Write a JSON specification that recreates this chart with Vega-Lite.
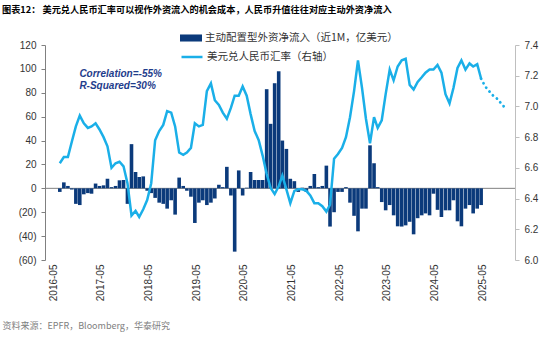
{
  "$schema": "https://vega.github.io/schema/vega-lite/v6.json",
  "width": 470,
  "height": 215,
  "autosize": {"type": "none"},
  "padding": {"left": 45, "top": 45, "right": 35, "bottom": 78},
  "background": "white",
  "config": {"view": {"stroke": null}, "font": "Liberation Sans"},
  "title": {
    "text": "图表12：  美元兑人民币汇率可以视作外资流入的机会成本，人民币升值往往对应主动外资净流入",
    "anchor": "start",
    "frame": "group",
    "dx": -43,
    "offset": 12,
    "font": "Noto Sans CJK SC",
    "fontSize": 9.2,
    "fontWeight": "bold",
    "color": "#000000"
  },
  "datasets": {
    "main": [
      {"date": "2016-07-15", "flow": -3, "usdcny": 6.63},
      {"date": "2016-08-15", "flow": 5, "usdcny": 6.67},
      {"date": "2016-09-15", "flow": 2, "usdcny": 6.67},
      {"date": "2016-10-15", "flow": -1, "usdcny": 6.77},
      {"date": "2016-11-15", "flow": -13, "usdcny": 6.87},
      {"date": "2016-12-15", "flow": -14, "usdcny": 6.94},
      {"date": "2017-01-15", "flow": -5, "usdcny": 6.89},
      {"date": "2017-02-15", "flow": -4, "usdcny": 6.86},
      {"date": "2017-03-15", "flow": -4.5, "usdcny": 6.87},
      {"date": "2017-04-15", "flow": 4, "usdcny": 6.89},
      {"date": "2017-05-15", "flow": 2, "usdcny": 6.85},
      {"date": "2017-06-15", "flow": 2.5, "usdcny": 6.8},
      {"date": "2017-07-15", "flow": 8, "usdcny": 6.74},
      {"date": "2017-08-15", "flow": 1, "usdcny": 6.6},
      {"date": "2017-09-15", "flow": 2, "usdcny": 6.63},
      {"date": "2017-10-15", "flow": 6.7, "usdcny": 6.64},
      {"date": "2017-11-15", "flow": 7, "usdcny": 6.61},
      {"date": "2017-12-15", "flow": -13, "usdcny": 6.5},
      {"date": "2018-01-15", "flow": 37, "usdcny": 6.29},
      {"date": "2018-02-15", "flow": 13.7, "usdcny": 6.32},
      {"date": "2018-03-15", "flow": 9.5, "usdcny": 6.28},
      {"date": "2018-04-15", "flow": 10, "usdcny": 6.33},
      {"date": "2018-05-15", "flow": -2, "usdcny": 6.39},
      {"date": "2018-06-15", "flow": -4, "usdcny": 6.5},
      {"date": "2018-07-15", "flow": -8, "usdcny": 6.78},
      {"date": "2018-08-15", "flow": -12, "usdcny": 6.84},
      {"date": "2018-09-15", "flow": -13, "usdcny": 6.88},
      {"date": "2018-10-15", "flow": -17, "usdcny": 6.97},
      {"date": "2018-11-15", "flow": -10, "usdcny": 6.96},
      {"date": "2018-12-15", "flow": -22, "usdcny": 6.87},
      {"date": "2019-01-15", "flow": 9, "usdcny": 6.7},
      {"date": "2019-02-15", "flow": 2, "usdcny": 6.685},
      {"date": "2019-03-15", "flow": -2, "usdcny": 6.7},
      {"date": "2019-04-15", "flow": -7, "usdcny": 6.73},
      {"date": "2019-05-15", "flow": -29, "usdcny": 6.89},
      {"date": "2019-06-15", "flow": -12, "usdcny": 6.87},
      {"date": "2019-07-15", "flow": -10, "usdcny": 6.88},
      {"date": "2019-08-15", "flow": -14, "usdcny": 7.1},
      {"date": "2019-09-15", "flow": -12, "usdcny": 7.15},
      {"date": "2019-10-15", "flow": -8.5, "usdcny": 7.04},
      {"date": "2019-11-15", "flow": 3, "usdcny": 7.01},
      {"date": "2019-12-15", "flow": 1, "usdcny": 6.96},
      {"date": "2020-01-15", "flow": 18, "usdcny": 6.92},
      {"date": "2020-02-15", "flow": -6, "usdcny": 6.99},
      {"date": "2020-03-15", "flow": -53, "usdcny": 7.07},
      {"date": "2020-04-15", "flow": 15, "usdcny": 7.07},
      {"date": "2020-05-15", "flow": -6, "usdcny": 7.13},
      {"date": "2020-06-15", "flow": 0.5, "usdcny": 7.07},
      {"date": "2020-07-15", "flow": 13.7, "usdcny": 6.95},
      {"date": "2020-08-15", "flow": 7, "usdcny": 6.84},
      {"date": "2020-09-15", "flow": 7, "usdcny": 6.78},
      {"date": "2020-10-15", "flow": 7, "usdcny": 6.68},
      {"date": "2020-11-15", "flow": 83, "usdcny": 6.56},
      {"date": "2020-12-15", "flow": 54, "usdcny": 6.47},
      {"date": "2021-01-15", "flow": 88, "usdcny": 6.43},
      {"date": "2021-02-15", "flow": 98, "usdcny": 6.48},
      {"date": "2021-03-15", "flow": 40, "usdcny": 6.55},
      {"date": "2021-04-15", "flow": 33, "usdcny": 6.46},
      {"date": "2021-05-15", "flow": 8, "usdcny": 6.37},
      {"date": "2021-06-15", "flow": 6, "usdcny": 6.45},
      {"date": "2021-07-15", "flow": -3, "usdcny": 6.46},
      {"date": "2021-08-15", "flow": 0.5, "usdcny": 6.46},
      {"date": "2021-09-15", "flow": -3, "usdcny": 6.45},
      {"date": "2021-10-15", "flow": 2, "usdcny": 6.42},
      {"date": "2021-11-15", "flow": 12, "usdcny": 6.37},
      {"date": "2021-12-15", "flow": 1, "usdcny": 6.37},
      {"date": "2022-01-15", "flow": 2, "usdcny": 6.35},
      {"date": "2022-02-15", "flow": 19, "usdcny": 6.315},
      {"date": "2022-03-15", "flow": -32, "usdcny": 6.36},
      {"date": "2022-04-15", "flow": -20, "usdcny": 6.66},
      {"date": "2022-05-15", "flow": -3, "usdcny": 6.69},
      {"date": "2022-06-15", "flow": -3, "usdcny": 6.73},
      {"date": "2022-07-15", "flow": 1, "usdcny": 6.8},
      {"date": "2022-08-15", "flow": -12, "usdcny": 6.93},
      {"date": "2022-09-15", "flow": -23, "usdcny": 7.1},
      {"date": "2022-10-15", "flow": -36, "usdcny": 7.3},
      {"date": "2022-11-15", "flow": -17, "usdcny": 7.12},
      {"date": "2022-12-15", "flow": -17, "usdcny": 6.92},
      {"date": "2023-01-15", "flow": 36, "usdcny": 6.76},
      {"date": "2023-02-15", "flow": 21, "usdcny": 6.93},
      {"date": "2023-03-15", "flow": 1, "usdcny": 6.86},
      {"date": "2023-04-15", "flow": -11.5, "usdcny": 6.91},
      {"date": "2023-05-15", "flow": -18.4, "usdcny": 7.08},
      {"date": "2023-06-15", "flow": -14, "usdcny": 7.24},
      {"date": "2023-07-15", "flow": -22.6, "usdcny": 7.17},
      {"date": "2023-08-15", "flow": -31.8, "usdcny": 7.26},
      {"date": "2023-09-15", "flow": -32, "usdcny": 7.3},
      {"date": "2023-10-15", "flow": -31, "usdcny": 7.31},
      {"date": "2023-11-15", "flow": -28, "usdcny": 7.14},
      {"date": "2023-12-15", "flow": -38.5, "usdcny": 7.11},
      {"date": "2024-01-15", "flow": -25, "usdcny": 7.16},
      {"date": "2024-02-15", "flow": -22.6, "usdcny": 7.19},
      {"date": "2024-03-15", "flow": -21, "usdcny": 7.22},
      {"date": "2024-04-15", "flow": -22.6, "usdcny": 7.24},
      {"date": "2024-05-15", "flow": -4.5, "usdcny": 7.24},
      {"date": "2024-06-15", "flow": -18, "usdcny": 7.27},
      {"date": "2024-07-15", "flow": -24, "usdcny": 7.22},
      {"date": "2024-08-15", "flow": -18.4, "usdcny": 7.08},
      {"date": "2024-09-15", "flow": -18.4, "usdcny": 7.02},
      {"date": "2024-10-15", "flow": -10, "usdcny": 7.12},
      {"date": "2024-11-15", "flow": -27.6, "usdcny": 7.25},
      {"date": "2024-12-15", "flow": -31.8, "usdcny": 7.3},
      {"date": "2025-01-15", "flow": -17, "usdcny": 7.24},
      {"date": "2025-02-15", "flow": -14, "usdcny": 7.28},
      {"date": "2025-03-15", "flow": -21, "usdcny": 7.26},
      {"date": "2025-04-15", "flow": -17, "usdcny": 7.275},
      {"date": "2025-05-15", "flow": -14, "usdcny": 7.18}
    ],
    "forecast": [
      {"date": "2025-05-15", "usdcny": 7.18},
      {"date": "2025-06-15", "usdcny": 7.13},
      {"date": "2025-07-15", "usdcny": 7.1},
      {"date": "2025-08-15", "usdcny": 7.07},
      {"date": "2025-09-15", "usdcny": 7.05},
      {"date": "2025-10-15", "usdcny": 7.02},
      {"date": "2025-11-15", "usdcny": 6.99}
    ]
  },
  "layer": [
    {
      "data": {"values": [{}]},
      "mark": {"type": "rule", "color": "#808080", "strokeWidth": 1},
      "encoding": {
        "y": {"datum": 0, "type": "quantitative", "scale": {"domain": [-60, 120]}, "axis": null}
      }
    },
    {
      "data": {"name": "main"},
      "mark": {"type": "bar", "width": 3.6},
      "encoding": {
        "x": {
          "field": "date",
          "type": "temporal",
          "scale": {"domain": [{"year": 2016, "month": 5, "date": 1}, {"year": 2025, "month": 12, "date": 22}]},
          "axis": {
            "values": [
              {"year": 2016, "month": 5, "date": 1},
              {"year": 2017, "month": 5, "date": 1},
              {"year": 2018, "month": 5, "date": 1},
              {"year": 2019, "month": 5, "date": 1},
              {"year": 2020, "month": 5, "date": 1},
              {"year": 2021, "month": 5, "date": 1},
              {"year": 2022, "month": 5, "date": 1},
              {"year": 2023, "month": 5, "date": 1},
              {"year": 2024, "month": 5, "date": 1},
              {"year": 2025, "month": 5, "date": 1}
            ],
            "format": "%Y-%m",
            "labelAngle": -90,
            "labelFont": "Liberation Sans",
            "labelFontSize": 10,
            "labelColor": "#333333",
            "labelPadding": 4,
            "labelOffset": 3,
            "domain": false,
            "ticks": false,
            "grid": false,
            "title": "资料来源：EPFR，Bloomberg，华泰研究",
            "titleX": -43,
            "titleY": 65,
            "titleAlign": "left",
            "titleAngle": 0,
            "titleBaseline": "middle",
            "titleFont": "Noto Sans CJK SC",
            "titleFontSize": 9,
            "titleFontWeight": "normal",
            "titleColor": "#808080"
          }
        },
        "y": {
          "field": "flow",
          "type": "quantitative",
          "scale": {"domain": [-60, 120]},
          "axis": {
            "orient": "left",
            "values": [-60, -40, -20, 0, 20, 40, 60, 80, 100, 120],
            "labelExpr": "datum.value < 0 ? '(' + format(-datum.value, 'd') + ')' : format(datum.value, 'd')",
            "labelFont": "Liberation Sans",
            "labelFontSize": 10,
            "labelColor": "#333333",
            "labelPadding": 5,
            "tickSize": 4,
            "tickColor": "#808080",
            "domainColor": "#808080",
            "grid": false,
            "title": null
          }
        },
        "color": {
          "datum": "主动配置型外资净流入（近1M，亿美元）",
          "scale": {"range": ["#0B3A7B"]},
          "legend": {
            "orient": "none",
            "legendX": 135,
            "legendY": -18,
            "title": null,
            "padding": 0,
            "symbolType": "M-1,-0.32H1V0.32H-1Z",
            "symbolSize": 484,
            "symbolStrokeWidth": 0,
            "labelFont": "Noto Sans CJK SC",
            "labelFontSize": 10.5,
            "labelColor": "#333333",
            "labelOffset": 3,
            "labelLimit": 400
          }
        }
      }
    },
    {
      "data": {"name": "main"},
      "mark": {"type": "line", "strokeWidth": 2.5},
      "encoding": {
        "x": {"field": "date", "type": "temporal", "scale": {"domain": [{"year": 2016, "month": 5, "date": 1}, {"year": 2025, "month": 12, "date": 22}]}},
        "y": {
          "field": "usdcny",
          "type": "quantitative",
          "scale": {"domain": [6.0, 7.4], "zero": false},
          "axis": {
            "orient": "right",
            "values": [6.0, 6.2, 6.4, 6.6, 6.8, 7.0, 7.2, 7.4],
            "format": ".1f",
            "labelFont": "Liberation Sans",
            "labelFontSize": 10,
            "labelColor": "#333333",
            "labelPadding": 5,
            "tickSize": 4,
            "tickColor": "#BFBFBF",
            "domainColor": "#BFBFBF",
            "grid": false,
            "title": null
          }
        },
        "stroke": {
          "datum": "美元兑人民币汇率（右轴）",
          "scale": {"range": ["#1AAFE8"]},
          "legend": {
            "orient": "none",
            "legendX": 135,
            "legendY": 0,
            "title": null,
            "padding": 0,
            "symbolType": "stroke",
            "symbolSize": 441,
            "symbolStrokeWidth": 2.5,
            "labelFont": "Noto Sans CJK SC",
            "labelFontSize": 10.5,
            "labelColor": "#333333",
            "labelOffset": 3,
            "labelLimit": 400
          }
        }
      }
    },
    {
      "data": {"name": "forecast"},
      "mark": {"type": "line", "strokeWidth": 2.8, "color": "#1AAFE8", "strokeDash": [0.1, 5], "strokeCap": "round"},
      "encoding": {
        "x": {"field": "date", "type": "temporal", "scale": {"domain": [{"year": 2016, "month": 5, "date": 1}, {"year": 2025, "month": 12, "date": 22}]}},
        "y": {"field": "usdcny", "type": "quantitative", "scale": {"domain": [6.0, 7.4], "zero": false}, "axis": null}
      }
    },
    {
      "data": {"values": [{}]},
      "mark": {
        "type": "text",
        "text": ["Correlation=-55%", "R-Squared=30%"],
        "align": "left",
        "baseline": "top",
        "lineHeight": 12.5,
        "font": "Liberation Sans",
        "fontSize": 10,
        "fontWeight": "bold",
        "fontStyle": "italic",
        "color": "#1F3D8C"
      },
      "encoding": {
        "x": {"datum": {"year": 2016, "month": 12, "date": 12}, "type": "temporal", "scale": {"domain": [{"year": 2016, "month": 5, "date": 1}, {"year": 2025, "month": 12, "date": 22}]}},
        "y": {"datum": 100, "type": "quantitative", "scale": {"domain": [-60, 120]}, "axis": null}
      }
    }
  ],
  "resolve": {"scale": {"y": "independent"}, "axis": {"y": "independent"}}
}
